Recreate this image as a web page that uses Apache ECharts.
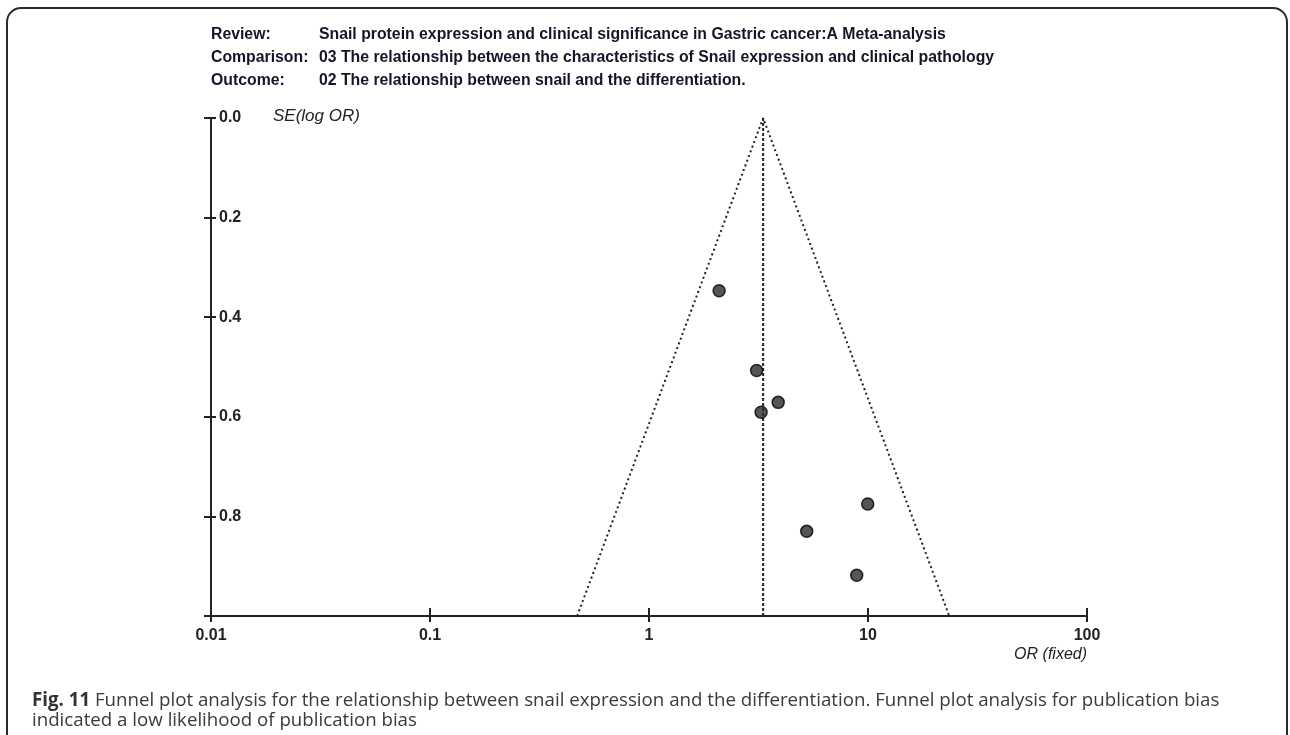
<!DOCTYPE html>
<html>
<head>
<meta charset="utf-8">
<title>Funnel plot</title>
<script src="https://cdn.jsdelivr.net/npm/echarts@6/dist/echarts.min.js"></script>
<style>
    html, body { margin: 0; padding: 0; background: #fff; }
    #echartDiv { width: 1290px; height: 735px; }
</style>
</head>
<body>
<div id="echartDiv"></div>
<script>
// study points: odds ratio (log axis) and SE(log OR)
const studyOR = [2.09, 3.10, 3.89, 3.25, 9.97, 5.25, 8.88];
const studySE = [0.347, 0.507, 0.571, 0.591, 0.775, 0.830, 0.918];

// pooled estimate and funnel limits
const pooledOR = 3.32;
const funnelOR = [0.47, 3.32, 23.5];
const funnelSE = [1.0, 0, 1.0];

const xTickLabels = ['0.01', '0.1', '1', '10', '100'];
const yTickLabels = ['0.0', '0.2', '0.4', '0.6', '0.8', ''];

const headerKeys = ['Review:', 'Comparison:', 'Outcome:'];
const headerValues = [
    'Snail protein expression and clinical significance in Gastric cancer:A Meta-analysis',
    '03 The relationship between the characteristics of Snail expression and clinical pathology',
    '02 The relationship between snail and the differentiation.'
];

const axisFont = "'Liberation Sans', Arial, sans-serif";
const captionFont = "'Open Sans', 'Noto Sans', sans-serif";

let headerGraphics = [];
headerKeys.forEach((k, i) => {
    headerGraphics.push({
        type: 'text', left: 211, top: 27 + i * 23,
        style: { text: k, font: 'bold 15.8px ' + axisFont, fill: '#15152a' }
    });
    headerGraphics.push({
        type: 'text', left: 319, top: 27 + i * 23,
        style: { text: headerValues[i], font: 'bold 15.8px ' + axisFont, fill: '#15152a' }
    });
});

let option = {
    animation: false,
    grid: { left: 211, right: 203, top: 118, bottom: 119 },
    xAxis: [
        {
            type: 'log', logBase: 10, min: 0.01, max: 100,
            axisLine: { onZero: false, lineStyle: { color: '#222', width: 2 } },
            axisTick: { length: 6, lineStyle: { color: '#222', width: 2 } },
            minorTick: { show: false },
            splitLine: { show: false },
            axisLabel: {
                margin: 12, color: '#222', fontSize: 16, fontWeight: 'bold', fontFamily: axisFont,
                formatter: (v, i) => xTickLabels[i]
            }
        },
        {
            type: 'log', logBase: 10, min: 0.01, max: 100, position: 'bottom',
            axisLine: { show: false, onZero: false },
            axisTick: { inside: true, length: 8, lineStyle: { color: '#222', width: 2 } },
            axisLabel: { show: false },
            splitLine: { show: false }
        }
    ],
    yAxis: [
        {
            type: 'value', inverse: true, min: 0, max: 1, interval: 0.2,
            axisLine: { show: true, onZero: false, lineStyle: { color: '#222', width: 2 } },
            axisTick: { show: true, length: 7, lineStyle: { color: '#222', width: 2 } },
            splitLine: { show: false },
            axisLabel: {
                inside: true, margin: 8, color: '#222', fontSize: 16, fontWeight: 'bold', fontFamily: axisFont,
                formatter: (v, i) => yTickLabels[i]
            }
        },
        {
            type: 'value', inverse: true, min: 0, max: 1, interval: 0.2, position: 'left',
            axisLine: { show: false, onZero: false },
            axisTick: { show: true, inside: true, length: 5, lineStyle: { color: '#222', width: 2 } },
            axisLabel: { show: false },
            splitLine: { show: false }
        }
    ],
    series: [
        {
            name: 'funnel',
            type: 'line',
            symbol: 'none',
            lineStyle: { color: '#222', width: 2, type: [2, 3] },
            data: funnelOR.map((v, i) => [v, funnelSE[i]]),
            z: 2
        },
        {
            name: 'pooled',
            type: 'line',
            symbol: 'none',
            lineStyle: { color: '#222', width: 2, type: [3, 2] },
            data: [[pooledOR, 0], [pooledOR, 1]],
            z: 2
        },
        {
            name: 'studies',
            type: 'scatter',
            symbolSize: 12,
            itemStyle: { color: '#2a2a2a', borderColor: '#000', borderWidth: 1.5 },
            data: studyOR.map((v, i) => [v, studySE[i]]),
            z: 3
        }
    ],
    graphic: [
        {
            type: 'rect', z: -1,
            shape: { x: 7, y: 8, width: 1280, height: 770, r: 14 },
            style: { fill: 'none', stroke: '#2a2a2a', lineWidth: 2 }
        },
        ...headerGraphics,
        {
            type: 'text', left: 273, top: 108,
            style: { text: 'SE(log OR)', font: 'italic 17px ' + axisFont, fill: '#222' }
        },
        {
            type: 'text', right: 203, top: 647,
            style: { text: 'OR (fixed)', font: 'italic 16px ' + axisFont, fill: '#222', textAlign: 'right' }
        },
        {
            type: 'text', left: 32, top: 691,
            style: {
                text: '{b|Fig. 11} Funnel plot analysis for the relationship between snail expression and the differentiation. Funnel plot analysis for publication bias\nindicated a low likelihood of publication bias',
                font: '18.7px ' + captionFont,
                fill: '#3a3a3a',
                lineHeight: 20,
                rich: {
                    b: { fontWeight: 'bold', fontSize: 18.7, fontFamily: captionFont, fill: '#333', lineHeight: 20 }
                }
            }
        }
    ]
};

let myChart = echarts.init(document.getElementById('echartDiv'));
myChart.setOption(option);

window.addEventListener('resize', () => {
    myChart.resize();
});
</script>
</body>
</html>
